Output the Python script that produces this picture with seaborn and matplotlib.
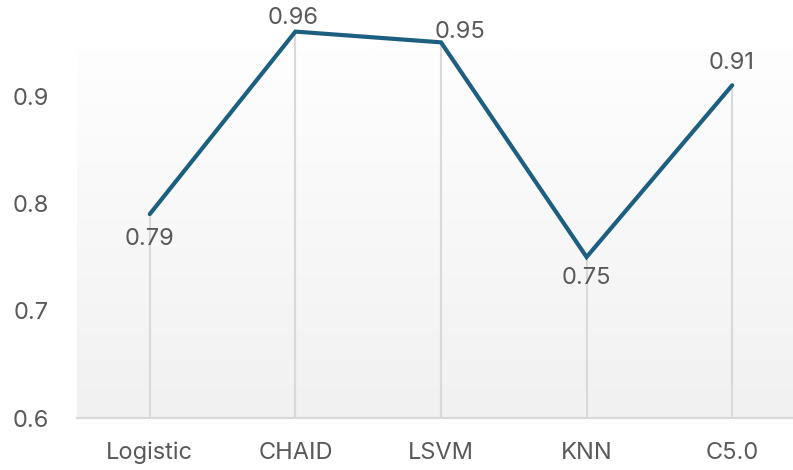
import numpy as np
import pandas as pd
import matplotlib
matplotlib.use("Agg")
import matplotlib.pyplot as plt
import seaborn as sns

# Model accuracy by classifier
models = ["Logistic", "CHAID", "LSVM", "KNN", "C5.0"]
accuracy = [0.79, 0.96, 0.95, 0.75, 0.91]
y_ticks = [0.6, 0.7, 0.8, 0.9]
value_labels = ["0.79", "0.96", "0.95", "0.75", "0.91"]

# label placement (pixel offsets from the point, vertical alignment)
label_offsets = [(0, -14, "top"), (-2, 3, "bottom"), (19, -1, "bottom"),
                 (0, -10, "top"), (-1, 11, "bottom")]

sns.set_theme(style="white")
plt.rcParams["font.family"] = ["Inter", "DejaVu Sans"]

TEXT = "#595959"
LINE = "#1D5F80"
GRID = "#d9d9d9"
FS = 17

W, H = 793, 470
fig = plt.figure(figsize=(W / 100, H / 100), dpi=100)
fig.patch.set_facecolor("white")

# plot area in pixels: left 77, bottom 418, top 49, category step ~145.6
left_px, bottom_px, top_px, step = 77, 418, 49, 145.6
ax = fig.add_axes([left_px / W, (H - bottom_px) / H,
                   5 * step / W, (bottom_px - top_px) / H])

ymin = 0.6
px_per_unit = 1073.3
ymax = ymin + (bottom_px - top_px) / px_per_unit
ax.set_xlim(-0.5, 4.5)
ax.set_ylim(ymin, ymax)

# soft vertical gradient fill for the plot area
grad = np.linspace(0, 1, 256).reshape(-1, 1)
cmap = matplotlib.colors.LinearSegmentedColormap.from_list(
    "bg", ["#f1f1f1", "#fefefe"])
ax.imshow(grad, aspect="auto", cmap=cmap, origin="lower",
          extent=(-0.5, 4.5, ymin, ymax), zorder=0)
ax.set_facecolor("none")

x = np.arange(len(models))
df = pd.DataFrame({"x": x, "model": models, "accuracy": accuracy})

# drop lines from each point to the baseline
ax.vlines(x, ymin, accuracy, colors=GRID, linewidth=1.5, zorder=1,
          clip_on=False)

sns.lineplot(data=df, x="x", y="accuracy", ax=ax, color=LINE,
             linewidth=3.0, sort=False, zorder=3, clip_on=False,
             solid_capstyle="round", solid_joinstyle="miter")

for xi, yi, lab, (dx, dy, va) in zip(x, accuracy, value_labels, label_offsets):
    ax.annotate(lab, (xi, yi), xytext=(dx, dy), textcoords="offset pixels",
                ha="center", va=va, fontsize=FS, color=TEXT,
                annotation_clip=False)

ax.set_xticks(x)
ax.set_xticklabels(models)
ax.set_yticks(y_ticks)
ax.set_yticklabels([f"{v:.1f}" for v in y_ticks])
ax.tick_params(axis="x", length=0, pad=17, labelsize=FS, labelcolor=TEXT)
ax.tick_params(axis="y", length=0, pad=20, labelsize=FS, labelcolor=TEXT)
ax.set_xlabel("")
ax.set_ylabel("")

for side in ["top", "right", "left"]:
    ax.spines[side].set_visible(False)
ax.spines["bottom"].set_color(GRID)
ax.spines["bottom"].set_linewidth(1.5)

fig.savefig("out.png", dpi=100)
